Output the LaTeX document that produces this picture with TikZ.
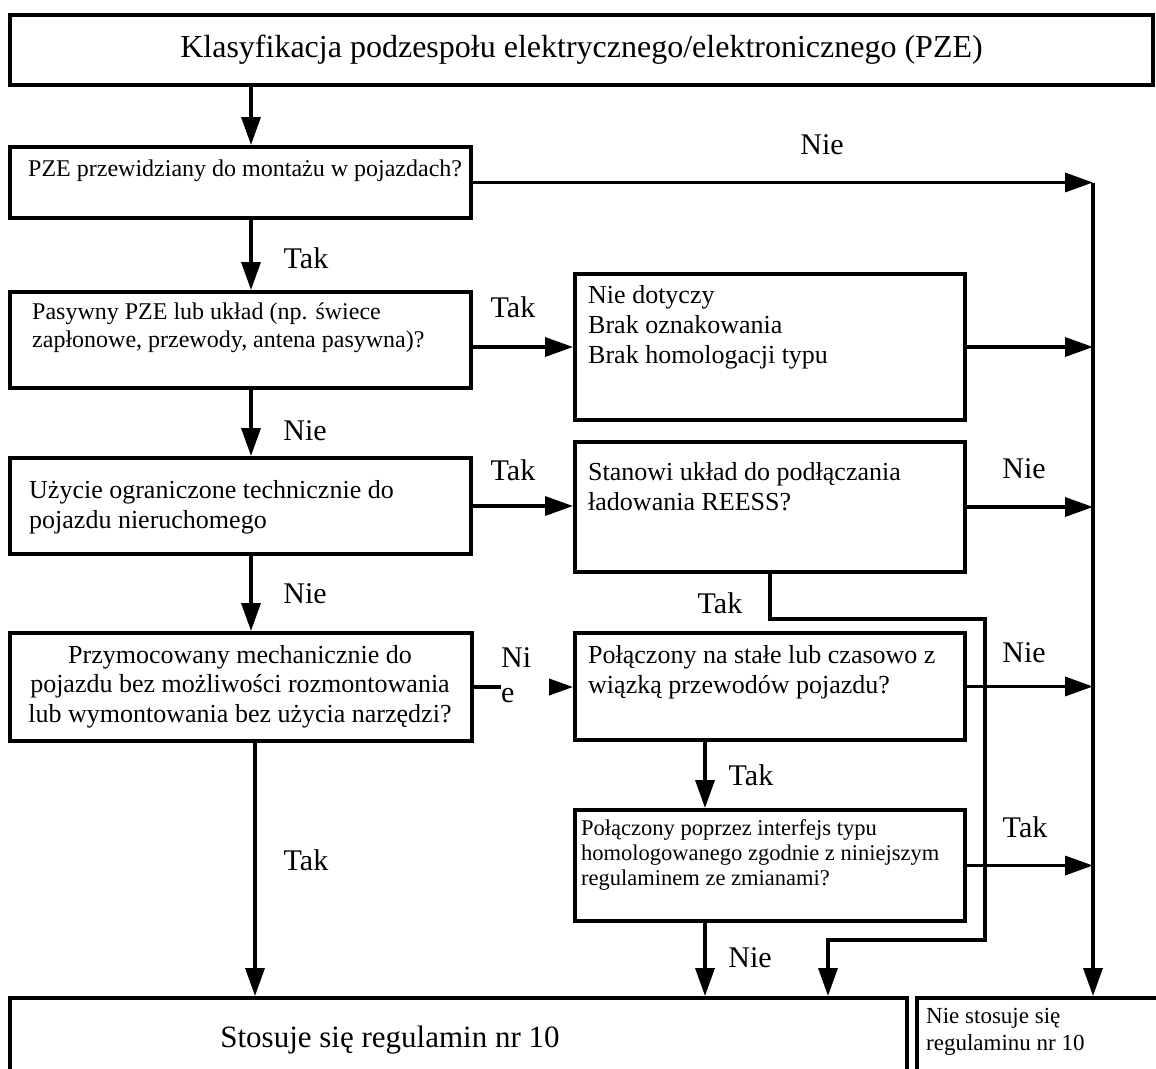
\documentclass[tikz,border=0pt]{standalone}
\usepackage{fontspec}
\setmainfont{Liberation Serif}
\usepackage{tikz}
\usetikzlibrary{arrows.meta, calc}
\newcommand{\fsz}[2]{\fontsize{#1}{#2}\selectfont}

\begin{document}
\begin{tikzpicture}[x=1pt, y=-1pt,
  box/.style={draw, line width=4pt, inner sep=0pt},
  txt/.style={inner sep=0pt, align=left, anchor=base west},
  lbl/.style={inner sep=0pt, anchor=base, font=\fsz{30}{36}},
  arr/.style={line width=3.5pt, -{Triangle[length=28pt, width=19pt]}}]

\useasboundingbox (0,0) rectangle (1156,1068);
\clip (0,0) rectangle (1156,1068);

% Columns for the connectors
\coordinate (colL) at (251,0);
\coordinate (colT) at (255,0);
\coordinate (colM) at (705,0);
\coordinate (colR) at (1093,0);
\coordinate (bendA) at (985,619);
\coordinate (bendB) at (828,940);

% Boxes
\node[box, line width=4.5pt, minimum width=1143pt, minimum height=70pt, font=\fsz{32}{38}] (title) at (581.5,50)
  {Klasyfikacja podzespołu elektrycznego/elektronicznego (PZE)};
\node[box, minimum width=461pt, minimum height=71pt] (q1) at (240.5,182.5) {};
\node[box, minimum width=461pt, minimum height=96pt] (q2) at (240.5,340) {};
\node[box, minimum width=390pt, minimum height=146pt] (r1) at (770,347) {};
\node[box, minimum width=461pt, minimum height=96pt] (q3) at (240.5,506) {};
\node[box, minimum width=390pt, minimum height=130pt] (q4) at (770,507) {};
\node[box, minimum width=462pt, minimum height=108pt] (q5) at (241,687) {};
\node[box, minimum width=390pt, minimum height=107pt] (q6) at (770,686.5) {};
\node[box, minimum width=390pt, minimum height=111pt] (q7) at (770,865.5) {};
\node[box, minimum width=897pt, minimum height=102pt] (yes) at (458.5,1049) {};
\node[box, minimum width=283pt, minimum height=102pt] (no) at (1058.5,1049) {};

% Box texts (placed by the baseline of their last line)
\node[txt, font=\fsz{24}{28}] (q1t) at (28,176) {PZE przewidziany do montażu w pojazdach?};
\node[txt, font=\fsz{24}{28}] (q2t) at (32,347) {Pasywny PZE lub układ (np. świece\\zapłonowe, przewody, antena pasywna)?};
\node[txt, font=\fsz{26}{30}] (r1t) at (588,363) {Nie dotyczy\\Brak oznakowania\\Brak homologacji typu};
\node[txt, font=\fsz{26}{30}] (q3t) at (29,528) {Użycie ograniczone technicznie do\\pojazdu nieruchomego};
\node[txt, font=\fsz{26}{30}] (q4t) at (588,510) {Stanowi układ do podłączania\\ładowania REESS?};
\node[txt, align=center, anchor=base, font=\fsz{26}{29.5}] (q5t) at (240,722)
  {Przymocowany mechanicznie do\\pojazdu bez możliwości rozmontowania\\lub wymontowania bez użycia narzędzi?};
\node[txt, font=\fsz{26}{30}] (q6t) at (588,693) {Połączony na stałe lub czasowo z\\wiązką przewodów pojazdu?};
\node[txt, font=\fsz{22.5}{25}] (q7t) at (581,885)
  {Połączony poprzez interfejs typu\\homologowanego zgodnie z niniejszym\\regulaminem ze zmianami?};
\node[txt, anchor=base, font=\fsz{31}{36}] (yest) at (390,1047) {Stosuje się regulamin nr 10};
\node[txt, font=\fsz{23}{27}] (not) at (926,1050) {Nie stosuje się\\regulaminu nr 10};

% Left column
\draw[arr] (title.south -| colL) -- (q1.north -| colL);
\draw[arr] (q1.south -| colL) -- (q2.north -| colL);
\draw[arr] (q2.south -| colL) -- (q3.north -| colL);
\draw[arr] (q3.south -| colL) -- (q5.north -| colL);
\draw[arr] (q5.south -| colT) -- (yes.north -| colT);

% Middle column
\draw[arr] (q2.east |- r1) -- (r1.west);
\draw[arr] (q3.east) -- (q3.east -| q4.west);
\draw[arr] (q5.east) -- (q5.east -| q6.west);
\draw[arr] (q6.south -| colM) -- (q7.north -| colM);
\draw[arr] (q7.south -| colM) -- (yes.north -| colM);
\draw[arr] (q4.south) |- (bendA) |- (bendB) -- (bendB |- yes.north);

% Right column
\draw[arr] (q1.east) -- (q1.east -| colR);
\draw[arr] (r1.east) -- (r1.east -| colR);
\draw[arr] (q4.east) -- (q4.east -| colR);
\draw[arr] (q6.east) -- (q6.east -| colR);
\draw[arr] (q7.east) -- (q7.east -| colR);
\draw[arr] (q1.east -| colR) -- (no.north -| colR);

% Labels
\node[lbl] (l1) at (822,154) {Nie};
\node[lbl] (l2) at (306,268) {Tak};
\node[lbl] (l3) at (513,317) {Tak};
\node[lbl] (l4) at (305,440) {Nie};
\node[lbl] (l5) at (513,480) {Tak};
\node[lbl] (l6) at (1024,478) {Nie};
\node[lbl] (l7) at (305,603) {Nie};
\node[lbl] (l8) at (720,613) {Tak};
\node[lbl, anchor=north west, align=left, fill=white, text width=48pt, font=\fsz{30}{35}] (l9) at (501,647) {Ni\\e};
\node[lbl] (l10) at (1024,662) {Nie};
\node[lbl] (l11) at (751,785) {Tak};
\node[lbl] (l12) at (1025,837) {Tak};
\node[lbl] (l13) at (750,967) {Nie};
\node[lbl] (l14) at (306,870) {Tak};

\end{tikzpicture}
\end{document}
